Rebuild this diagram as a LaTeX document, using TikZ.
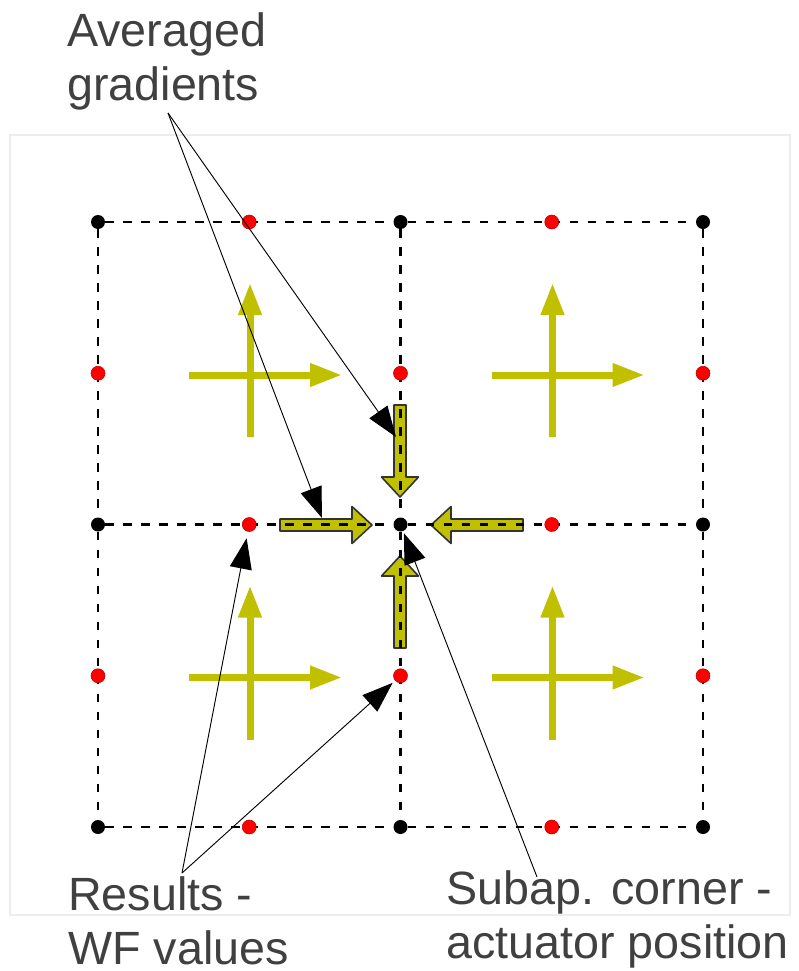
\documentclass[tikz,border=0pt]{standalone}
\usepackage{fontspec}
\setmainfont{Liberation Sans}
\usetikzlibrary{arrows.meta}
\pgfdeclarelayer{bottom}
\pgfdeclarelayer{background}
\pgfsetlayers{bottom,background,main}
\definecolor{gradyellow}{RGB}{192,192,0}
\definecolor{labelgray}{RGB}{64,64,64}

\tikzset{
  actdot/.style={circle, fill=black, inner sep=0pt, minimum size=10.5pt},
  wfdot/.style={circle, fill=red, draw=red!70!black, line width=0.4pt, inner sep=0pt, minimum size=10.5pt},
  gridline/.style={dash pattern=on 6.5pt off 7pt, line width=1.7pt},
  crossarrow/.style={gradyellow, line width=5.25pt, -{Triangle[length=24pt,width=16.5pt]}},
  gradarrow/.style={fill=gradyellow, draw=black!80, line width=1.2pt, line join=round},
  callout/.style={line width=0.7pt, -{Triangle[length=23pt,width=16.5pt]}},
  tagtext/.style={anchor=base west, align=left, inner sep=0pt, text=labelgray, font=\fontsize{35}{40}\selectfont},
  fatarrow/.pic={\draw[gradarrow] (0,-6) -- (72,-6) -- (72,-18.5) -- (92,0) -- (72,18.5) -- (72,6) -- (0,6) -- cycle;}
}

\begin{document}
\begin{tikzpicture}[x=0.75pt, y=-0.75pt]
\useasboundingbox (0,0) rectangle (799,971);

\foreach \i in {0,1,2}
  \foreach \j in {0,1,2}
    \node[actdot] (a\i\j) at ({98+302.5*\i},{222+302.5*\j}) {};
\foreach \i in {0,1}
  \foreach \j in {0,1,2}
    \node[wfdot] (h\i\j) at ({249.25+302.5*\i},{222+302.5*\j}) {};
\foreach \i in {0,1,2}
  \foreach \j in {0,1}
    \node[wfdot] (v\i\j) at ({98+302.5*\i},{373.25+302.5*\j}) {};

\begin{pgfonlayer}{background}
\foreach \k in {0,1,2} {
  \draw[gridline] (a0\k) -- (a1\k) -- (a2\k);
  \draw[gridline] (a\k0) -- (a\k1) -- (a\k2);
}
\end{pgfonlayer}

\begin{pgfonlayer}{bottom}
\draw[black!7, line width=1.2pt] (10,135) rectangle (790,915);
\foreach \i in {0,1}
  \foreach \j in {0,1} {
    \draw[crossarrow] ({250+302.5*\i-61},{375+302.5*\j}) -- ++(153,0);
    \draw[crossarrow] ({250+302.5*\i},{375+302.5*\j+62}) -- ++(0,-154);
  }
\pic at (280,525) {fatarrow};
\pic[rotate=180] at (523,525) {fatarrow};
\pic[rotate=-90] at (400,405) {fatarrow};
\pic[rotate=90] at (400,648) {fatarrow};
\end{pgfonlayer}

\node[tagtext] (avgtxt) at (67,100) {Averaged\\gradients};
\node[tagtext] (restxt) at (68,964) {Results -\\WF values};
\node[tagtext] (subtxt) at (446,958) {Subap. corner -\\actuator position};

\coordinate (avg) at (168,113);
\coordinate (res) at (182,873);
\coordinate (sub) at (537,877);
\coordinate (gdT) at (396,437);
\coordinate (gdL) at (322,518);

\draw[callout] (avg) -- (gdT);
\draw[callout] (avg) -- (gdL);
\draw[callout, shorten >=5pt] (res) -- (h01);
\draw[callout, shorten >=2.5pt] (res) -- (v11);
\draw[callout, shorten >=1.5pt] (sub) -- (a11);
\end{tikzpicture}
\end{document}
